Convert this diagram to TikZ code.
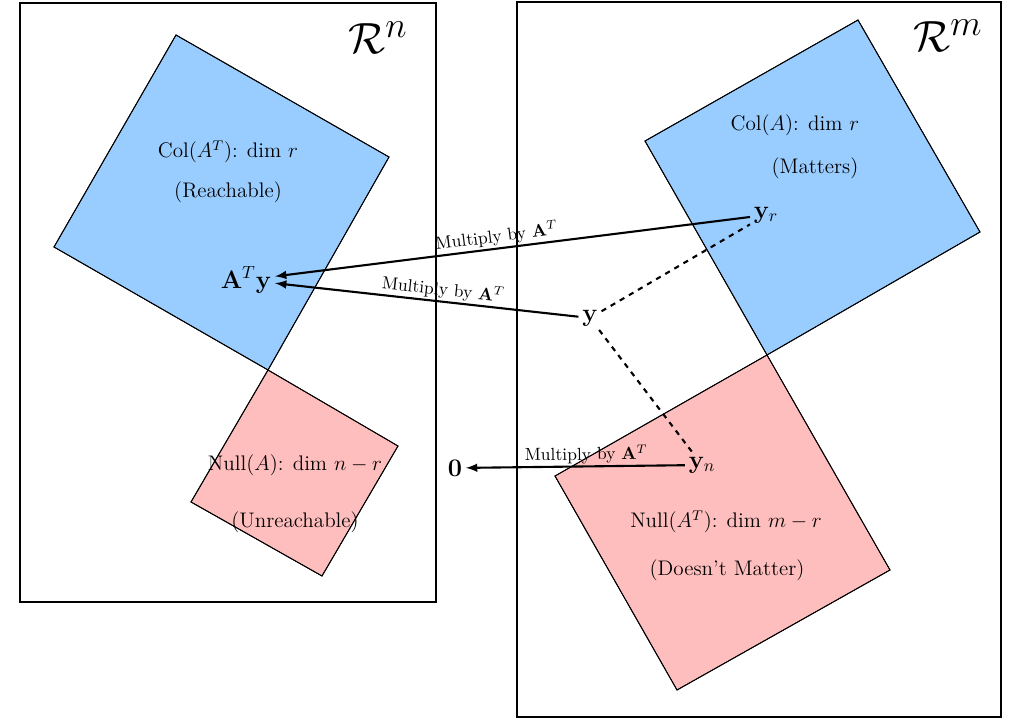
\documentclass[tikz,border=0pt]{standalone}
\usepackage{amsmath,amssymb}
\begin{document}
\begin{tikzpicture}[x=0.02cm,y=-0.02cm,
  frame/.style={draw=black,line width=1.2pt},
  blue/.style={fill={rgb,255:red,153;green,204;blue,255},draw=black,line width=0.5pt},
  red/.style={fill={rgb,255:red,255;green,190;blue,190},draw=black,line width=0.5pt},
  txt/.style={font=\large},
  pt/.style={font=\Large,inner sep=2pt},
  arr/.style={-latex,line width=1.2pt},
  lab/.style={font=\normalsize,sloped,above,inner sep=1pt},
  dsh/.style={dashed,line width=1.2pt}]
\useasboundingbox (0,0) rectangle (1022,720);
\fill[blue] (176,35)--(389,157)--(268,370)--(54,247)--cycle;
\fill[red] (268,370)--(398,446)--(322,576)--(191,502)--cycle;
\fill[blue] (858,20)--(980,232)--(767,355)--(645,141)--cycle;
\fill[red] (767,355)--(890,570)--(677,690)--(555,476)--cycle;
\draw[blue,fill=none] (176,35)--(389,157)--(268,370)--(54,247)--cycle;
\draw[red,fill=none] (268,370)--(398,446)--(322,576)--(191,502)--cycle;
\draw[blue,fill=none] (858,20)--(980,232)--(767,355)--(645,141)--cycle;
\draw[red,fill=none] (767,355)--(890,570)--(677,690)--(555,476)--cycle;
\draw[frame] (20,3) rectangle (436,602);
\draw[frame] (517,2) rectangle (1001,717);
\node[font=\Huge] (rn) at (378,38) {$\mathcal{R}^n$};
\node[font=\Huge] (rm) at (948,36) {$\mathcal{R}^m$};
\node[txt] (c1) at (228,152) {Col($A^T$): dim $r$};
\node[txt] (c1b) at (228,192) {(Reachable)};
\node[txt] (n1) at (295,465) {Null($A$): dim $n-r$};
\node[txt] (n1b) at (295,522) {(Unreachable)};
\node[txt] (c2) at (795,125) {Col($A$): dim $r$};
\node[txt] (c2b) at (815,168) {(Matters)};
\node[txt] (n2) at (726,522) {Null($A^T$): dim $m-r$};
\node[txt] (n2b) at (727,570) {(Doesn't Matter)};
\node[pt] (aty) at (246,280) {$\mathbf{A}^T\mathbf{y}$};
\node[pt] (y) at (590,318) {$\mathbf{y}$};
\node[pt] (yr) at (766,215) {$\mathbf{y}_r$};
\node[pt] (yn) at (702,465) {$\mathbf{y}_n$};
\node[pt] (z) at (455,468) {$\mathbf{0}$};
\draw[arr] (yr) -- node[lab,pos=0.53] {Multiply by $\mathbf{A}^T$} (aty);
\draw[arr] (y) -- node[lab,pos=0.45] {Multiply by $\mathbf{A}^T$} (aty);
\draw[arr] (yn) -- node[lab,pos=0.45] {Multiply by $\mathbf{A}^T$} (z);
\draw[dsh] (y) -- (yr);
\draw[dsh] (y) -- (yn);
\end{tikzpicture}
\end{document}
